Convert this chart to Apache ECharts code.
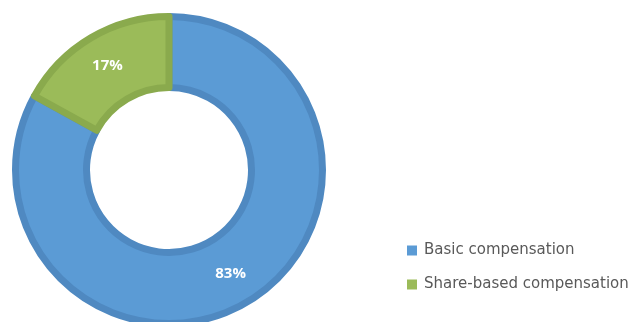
<!DOCTYPE html>
<html><head><meta charset="utf-8">
<script src="https://cdn.jsdelivr.net/npm/echarts@6/dist/echarts.min.js"></script>
<style>html,body{margin:0;padding:0;background:#fff}#c{width:636px;height:322px}</style>
</head><body><div id="c"></div>
<script>
const categories = ["Basic compensation", "Share-based compensation"];
const values = [83, 17];
const labels = ["83%", "17%"];
const fills = ["#5B9BD5", "#9BBB59"];
const borders = ["#4F89C1", "#8AAA4D"];

const chart = echarts.init(document.getElementById('c'));
chart.setOption({
  animation: false,
  legend: {
    orient: 'vertical', left: 407, top: 243, padding: 0,
    itemWidth: 10, itemHeight: 10, itemGap: 19,
    icon: 'rect',
    itemStyle: { borderWidth: 0 },
    textStyle: { color: '#595959', fontSize: 15, fontFamily: 'DejaVu Sans', padding: [0,0,0,2] },
    data: categories
  },
  series: [{
    type: 'pie',
    center: [169, 170],
    radius: [82.5, 153.5],
    startAngle: 90,
    clockwise: true,
    label: {
      show: true, position: 'inside',
      color: '#fff', fontWeight: 'bold', fontSize: 15, fontFamily: 'Open Sans',
      formatter: p => labels[p.dataIndex]
    },
    labelLine: { show: false },
    emphasis: { disabled: true },
    data: categories.map((n, i) => ({
      name: n, value: values[i],
      itemStyle: { color: fills[i], borderColor: borders[i], borderWidth: 7 }
    }))
  }]
});
</script></body></html>
